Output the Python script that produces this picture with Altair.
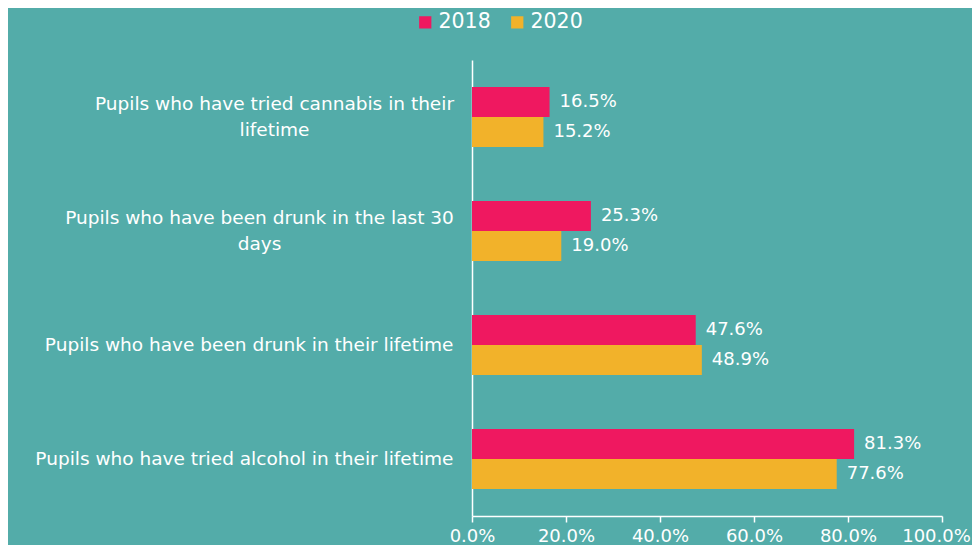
import altair as alt
import pandas as pd

categories = [
    "Pupils who have tried cannabis in their|lifetime",
    "Pupils who have been drunk in the last 30|days",
    "Pupils who have been drunk in their lifetime",
    "Pupils who have tried alcohol in their lifetime",
]
years = ["2018", "2020"]
values_2018 = [0.165, 0.253, 0.476, 0.813]
values_2020 = [0.152, 0.190, 0.489, 0.776]
x_ticks = [0.0, 0.2, 0.4, 0.6, 0.8, 1.0]

rows = []
for c, a, b in zip(categories, values_2018, values_2020):
    rows.append({"category": c, "year": "2018", "value": a})
    rows.append({"category": c, "year": "2020", "value": b})
df = pd.DataFrame(rows)

BG = "#53ACA9"
FONT = "DejaVu Sans"
MULTI = "indexof(datum.value, '|') >= 0"

y_enc = alt.Y(
    "category:N",
    sort=categories,
    scale=alt.Scale(paddingInner=54 / 114, paddingOuter=27 / 114),
    axis=alt.Axis(
        title=None,
        labelExpr="split(datum.label, '|')",
        labelColor="white",
        labelFont=FONT,
        labelFontSize=18.5,
        labelLineHeight=26,
        labelAlign={"condition": {"test": MULTI, "value": "center"}, "value": "right"},
        labelPadding={
            "condition": [
                {"test": "indexof(datum.value, 'cannabis') >= 0", "value": 198},
                {"test": "indexof(datum.value, '30') >= 0", "value": 213},
            ],
            "value": 19,
        },
        labelOffset={"condition": {"test": MULTI, "value": -13}, "value": 0},
        labelLimit=500,
        ticks=False,
        domainColor="white",
        domainWidth=1.5,
    ),
)
yoff = alt.YOffset("year:N", sort=years, scale=alt.Scale(paddingInner=0, paddingOuter=0))

base = alt.Chart(df)

bars = base.mark_bar().encode(
    x=alt.X(
        "value:Q",
        scale=alt.Scale(domain=[0, 1], nice=False),
        axis=alt.Axis(
            title=None,
            values=x_ticks,
            format=".1%",
            labelColor="white",
            labelFont=FONT,
            labelFontSize=18,
            labelPadding=5,
            labelFlush=False,
            labelOverlap=False,
            labelOffset={"condition": {"test": "datum.value == 1", "value": -6}, "value": 0},
            tickColor="white",
            tickSize=6,
            tickWidth=1.5,
            domainColor="white",
            domainWidth=1.5,
            grid=False,
        ),
    ),
    y=y_enc,
    yOffset=yoff,
    color=alt.Color(
        "year:N",
        sort=years,
        scale=alt.Scale(domain=years, range=["#EF1860", "#F2B22A"]),
        legend=alt.Legend(
            title=None,
            orient="none",
            direction="horizontal",
            legendX=-57,
            legendY=-48,
            symbolType="square",
            symbolSize=150,
            symbolStrokeWidth=0,
            labelColor="white",
            labelFont=FONT,
            labelFontSize=20.5,
            labelOffset=3,
            columnPadding=16,
        ),
    ),
)

labels = base.mark_text(
    align="left", baseline="middle", dx=10, color="white", font=FONT, fontSize=18
).encode(
    x="value:Q",
    y=alt.Y("category:N", sort=categories),
    yOffset=yoff,
    text=alt.Text("value:Q", format=".1%"),
)

chart = (
    alt.layer(bars, labels)
    .properties(
        width=470,
        height=456,
        background=BG,
        padding={"left": 464, "top": 52, "right": 30, "bottom": 29},
        autosize=alt.AutoSizeParams(type="none"),
    )
    .configure_view(stroke=None)
)

chart.save("out.html", embed_options={"renderer": "svg", "actions": False})
